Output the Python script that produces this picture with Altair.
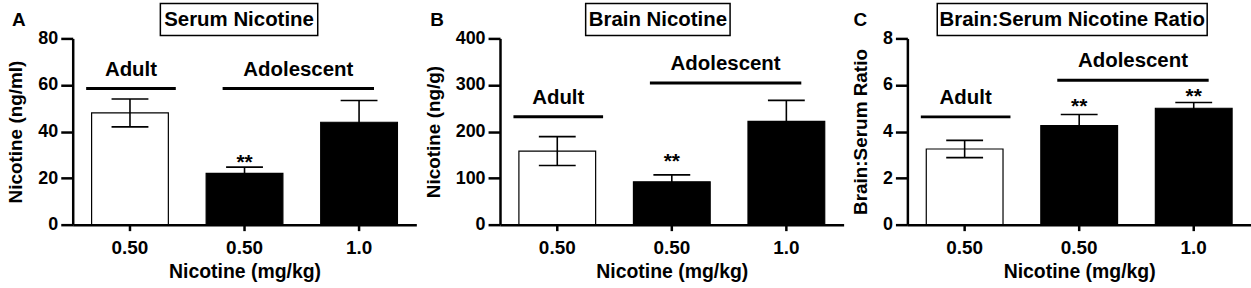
import altair as alt
import pandas as pd

# ---------------- data ----------------
categories = ["Adult|0.50", "Adolescent|0.50", "Adolescent|1.0"]
bar_fill = ["white", "black", "black"]

panel_letters = ["A", "B", "C"]
panel_titles = ["Serum Nicotine", "Brain Nicotine", "Brain:Serum Nicotine Ratio"]
y_titles = ["Nicotine (ng/ml)", "Nicotine (ng/g)", "Brain:Serum Ratio"]
x_title = "Nicotine (mg/kg)"
y_max = [80, 400, 8]
y_ticks = [[0, 20, 40, 60, 80], [0, 100, 200, 300, 400], [0, 2, 4, 6, 8]]

serum_mean = [48, 22, 44]
serum_sem = [6, 2.7, 9.3]
brain_mean = [158, 92, 222]
brain_sem = [31, 15, 45]
ratio_mean = [3.25, 4.25, 5.0]
ratio_sem = [0.37, 0.48, 0.25]

means = [serum_mean, brain_mean, ratio_mean]
sems = [serum_sem, brain_sem, ratio_sem]

# significance markers: (category, y position)
star_cats = [["Adolescent|0.50"], ["Adolescent|0.50"], ["Adolescent|0.50", "Adolescent|1.0"]]
star_y = [[27.8], [140], [5.18, 5.6]]

group_names = ["Adult", "Adolescent"]
adult_line_y = [58.5, 232, 4.63]
adolescent_line_y = [58.5, 304, 6.2]

# layout-only constants (decorations)
W, H = 345, 187
FONT = "Liberation Sans"
letter_x = [-61, -70, -54]
title_box = [(88, 246), (86, 231), (30, 301)]


def panel(i):
    m, s = means[i], sems[i]
    df = pd.DataFrame({
        "cat": categories,
        "mean": m,
        "lo": [a - b for a, b in zip(m, s)],
        "hi": [a + b for a, b in zip(m, s)],
        "fill": bar_fill,
    })
    xenc = alt.X(
        "cat:N",
        scale=alt.Scale(domain=categories, paddingInner=0.33, paddingOuter=0.165),
        axis=alt.Axis(
            title=x_title,
            labelExpr="split(datum.value, '|')[1]",
            labelAngle=0,
            tickSize=6,
            labelFontSize=19,
            labelPadding=8,
            titleFontSize=19.5,
            titlePadding=5,
        ),
    )
    yscale = alt.Scale(domain=[0, y_max[i]], nice=False)
    yaxis = alt.Axis(
        title=y_titles[i],
        values=y_ticks[i],
        tickSize=12,
        labelFontSize=18,
        labelPadding=3,
        titleFontSize=19,
        titlePadding=12,
    )
    base = alt.Chart(df)
    bars = base.mark_bar(stroke="black", strokeWidth=1.2).encode(
        x=xenc,
        y=alt.Y("mean:Q", scale=yscale, axis=yaxis),
        fill=alt.Fill("fill:N", scale=None),
    )
    err = base.mark_rule(color="black", strokeWidth=1.6).encode(
        x="cat:N", y="lo:Q", y2="hi:Q"
    )
    cap_hi = base.mark_tick(color="black", size=37, thickness=1.6, opacity=1).encode(
        x="cat:N", y="hi:Q"
    )
    cap_lo = base.mark_tick(color="black", size=37, thickness=1.6, opacity=1).encode(
        x="cat:N", y="lo:Q"
    )

    sdf = pd.DataFrame({"cat": star_cats[i], "y": star_y[i], "t": ["**"] * len(star_y[i])})
    stars = alt.Chart(sdf).mark_text(
        font=FONT, fontSize=21, fontWeight="bold", baseline="middle", dy=3, color="black"
    ).encode(x="cat:N", y="y:Q", text="t:N")

    ga = pd.DataFrame({"c1": [categories[0]], "c2": [categories[0]],
                       "y": [adult_line_y[i]], "name": [group_names[0]]})
    gb = pd.DataFrame({"c1": [categories[1]], "c2": [categories[2]],
                       "y": [adolescent_line_y[i]], "name": [group_names[1]]})
    line_a = alt.Chart(ga).mark_rule(color="black", strokeWidth=3, xOffset=-44, x2Offset=46).encode(
        x="c1:N", x2="c2:N", y="y:Q")
    line_b = alt.Chart(gb).mark_rule(color="black", strokeWidth=3, xOffset=-22, x2Offset=15).encode(
        x="c1:N", x2="c2:N", y="y:Q")
    text_a = alt.Chart(ga).mark_text(
        font=FONT, fontSize=20.5, fontWeight="bold", baseline="alphabetic", dx=1, dy=-13, color="black"
    ).encode(x="c1:N", y="y:Q", text="name:N")
    text_b = alt.Chart(gb).mark_text(
        font=FONT, fontSize=20.5, fontWeight="bold", baseline="alphabetic", dx=54, dy=-13, color="black"
    ).encode(x="c1:N", y="y:Q", text="name:N")

    tdf = pd.DataFrame({"title": [panel_titles[i]], "letter": [panel_letters[i]]})
    bx0, bx1 = title_box[i]
    box = alt.Chart(tdf).mark_rect(fill="white", stroke="black", strokeWidth=1.5).encode(
        x=alt.value(bx0), x2=alt.value(bx1), y=alt.value(-35), y2=alt.value(-3))
    ttl = alt.Chart(tdf).mark_text(
        font=FONT, fontSize=20.5, fontWeight="bold", baseline="middle", align="center", color="black"
    ).encode(x=alt.value((bx0 + bx1) / 2), y=alt.value(-18), text="title:N")
    letter = alt.Chart(tdf).mark_text(
        font=FONT, fontSize=19, fontWeight="bold", baseline="middle", align="left", color="black"
    ).encode(x=alt.value(letter_x[i]), y=alt.value(-18), text="letter:N")

    return alt.layer(
        bars, err, cap_hi, cap_lo, stars, line_a, line_b, text_a, text_b, box, ttl, letter
    ).properties(width=W, height=H)


chart = alt.hconcat(panel(0), panel(1), panel(2), spacing=7).resolve_scale(
    y="independent"
).properties(
    padding={"left": 6, "top": 2, "right": 0, "bottom": 0},
    background="white",
).configure_view(stroke=None).configure_axis(
    labelFont=FONT,
    titleFont=FONT,
    labelFontWeight="bold",
    titleFontWeight="bold",
    labelColor="black",
    titleColor="black",
    domainColor="black",
    tickColor="black",
    domainWidth=2.5,
    tickWidth=2.5,
    grid=False,
)

chart.save("out.html", embed_options={"renderer": "svg", "actions": False})
